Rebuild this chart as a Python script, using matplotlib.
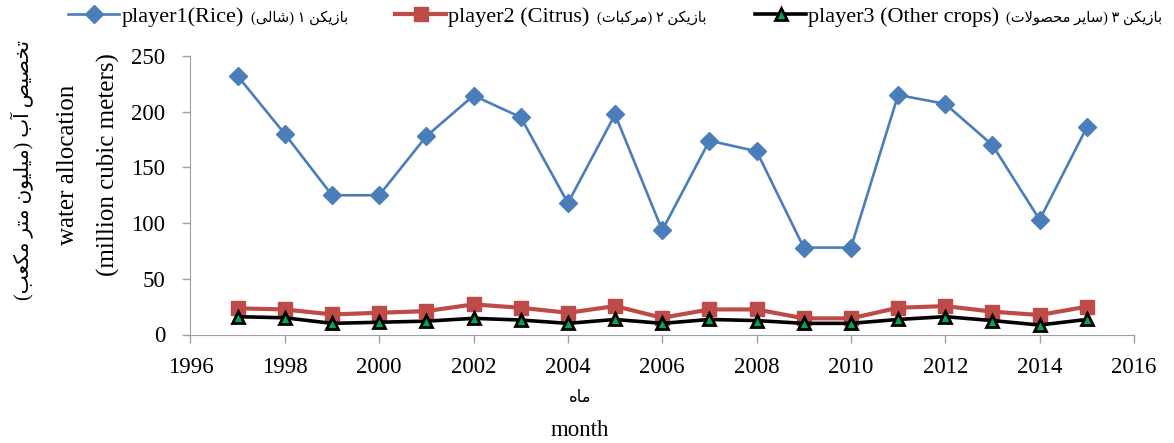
import numpy as np
import matplotlib
matplotlib.use("Agg")
import matplotlib.pyplot as plt

years = list(range(1997, 2016))
rice = [232, 180, 125, 125, 178, 214.5, 195, 118, 197.5, 93.5,
        174, 164.5, 78, 78, 215, 207, 170, 103, 186]
citrus = [23.5, 22.5, 18, 19.5, 21, 27, 24, 19.5, 25.5, 15,
          22.5, 22.5, 14.5, 14.5, 24, 25.5, 20.5, 17.5, 25]
other = [16, 15, 10, 11, 12, 14.5, 13, 10, 13.5, 10,
         13.5, 12.5, 10, 10, 13.5, 16, 12.5, 8.5, 13.5]

names_en = ["player1(Rice)", "player2 (Citrus)", "player3 (Other crops)"]
names_fa = ["بازیکن ۱ (شالی)", "بازیکن ۲ (مرکبات)", "بازیکن ۳ (سایر محصولات)"]
ylabel_fa = "تخصیص آب (میلیون متر مکعب)"
xlabel_fa = "ماه"

# simple arabic shaping (no reshaper lib available)
# letter: (isolated, final, initial, medial); right-joining letters have only 2
forms = {
    "ا": (0xFE8D, 0xFE8E), "آ": (0xFE81, 0xFE82),
    "ر": (0xFEAD, 0xFEAE), "ز": (0xFEAF, 0xFEB0), "و": (0xFEED, 0xFEEE),
    "ب": (0xFE8F, 0xFE90, 0xFE91, 0xFE92), "ت": (0xFE95, 0xFE96, 0xFE97, 0xFE98),
    "ح": (0xFEA1, 0xFEA2, 0xFEA3, 0xFEA4), "خ": (0xFEA5, 0xFEA6, 0xFEA7, 0xFEA8),
    "س": (0xFEB1, 0xFEB2, 0xFEB3, 0xFEB4), "ش": (0xFEB5, 0xFEB6, 0xFEB7, 0xFEB8),
    "ص": (0xFEB9, 0xFEBA, 0xFEBB, 0xFEBC), "ع": (0xFEC9, 0xFECA, 0xFECB, 0xFECC),
    "ل": (0xFEDD, 0xFEDE, 0xFEDF, 0xFEE0), "م": (0xFEE1, 0xFEE2, 0xFEE3, 0xFEE4),
    "ن": (0xFEE5, 0xFEE6, 0xFEE7, 0xFEE8), "ه": (0xFEE9, 0xFEEA, 0xFEEB, 0xFEEC),
    "ی": (0xFBFC, 0xFBFD, 0xFBFE, 0xFBFF), "ک": (0xFB8E, 0xFB8F, 0xFB90, 0xFB91),
}


def shape(txt):
    # lam-alef ligature first
    chars = []
    i = 0
    while i < len(txt):
        if txt[i] == "ل" and i + 1 < len(txt) and txt[i + 1] == "ا":
            chars.append("LA")
            i += 2
        else:
            chars.append(txt[i])
            i += 1

    def dual(c):
        return c in forms and len(forms[c]) == 4

    def joins(c):
        return c in forms or c == "LA"

    out = []
    for k, c in enumerate(chars):
        prev = chars[k - 1] if k > 0 else None
        nxt = chars[k + 1] if k + 1 < len(chars) else None
        from_prev = prev is not None and dual(prev)
        if c == "LA":
            out.append(chr(0xFEFC if from_prev else 0xFEFB))
            continue
        if c not in forms:
            out.append(c)
            continue
        to_next = dual(c) and nxt is not None and joins(nxt)
        f = forms[c]
        if from_prev and to_next:
            out.append(chr(f[3]))
        elif from_prev:
            out.append(chr(f[1]))
        elif to_next:
            out.append(chr(f[2]))
        else:
            out.append(chr(f[0]))
    vis = "".join(out)[::-1]
    return vis.translate(str.maketrans("()", ")("))


plt.rcParams['font.family'] = ['Liberation Serif', 'DejaVu Sans']

W, H = 1174, 443
fig = plt.figure(figsize=(W / 100, H / 100), dpi=100)
ax = fig.add_axes([190.5 / W, 1 - 334.5 / H, 943.5 / W, 278.5 / H])

l1, = ax.plot(years, rice, color='#4A7EBB', lw=1.9, marker='D', ms=9)
l2, = ax.plot(years, citrus, color='#BE4B48', lw=3.0, marker='s', ms=10)
l3, = ax.plot(years, other, color='black', lw=2.6, marker='^', ms=9,
              markerfacecolor='#00A651', markeredgecolor='black', mew=2)

ax.set_xlim(1996, 2016)
ax.set_ylim(0, 250)
ax.set_xticks(np.arange(1996, 2017, 2))
ax.set_yticks(np.arange(0, 251, 50))
for s in ['top', 'right']:
    ax.spines[s].set_visible(False)
for s in ['left', 'bottom']:
    ax.spines[s].set_color('#A0A0A0')
ax.tick_params(colors='#A0A0A0', labelcolor='black', labelsize=16.5,
               length=6, width=1)
ax.tick_params(axis='y', pad=12)
ax.tick_params(axis='x', pad=10)

# legend: one entry at a time, persian part added after the english text
handle_x = [68, 395, 755]
legs = []
for h, name, hx in zip([l1, l2, l3], names_en, handle_x):
    lg = fig.legend(handles=[h], labels=[name], loc='center left',
                    bbox_to_anchor=(hx / W, 1 - 17 / H), frameon=False,
                    fontsize=16, handlelength=2.3, handletextpad=0.1,
                    borderpad=0, borderaxespad=0)
    legs.append(lg)

fig.canvas.draw()
r = fig.canvas.get_renderer()
for lg, fa in zip(legs, names_fa):
    bb = lg.get_texts()[0].get_window_extent(r)
    fig.text((bb.x1 + 7) / W, 1 - 18 / H, shape(fa), ha='left', va='center',
             fontsize=10.5)

fig.text(23 / W, 1 - 170 / H, shape(ylabel_fa), rotation=90, ha='center',
         va='center', fontsize=14.5)
fig.text(68 / W, 1 - 165 / H, "water allocation", rotation=90, ha='center',
         va='center', fontsize=18)
fig.text(108 / W, 1 - 165 / H, "(million cubic meters)", rotation=90,
         ha='center', va='center', fontsize=18)
fig.text(580 / W, 1 - 398 / H, shape(xlabel_fa), ha='center', va='center',
         fontsize=12)
fig.text(580 / W, 1 - 430 / H, "month", ha='center', va='center', fontsize=16.5)

fig.savefig("out.png", dpi=100)
